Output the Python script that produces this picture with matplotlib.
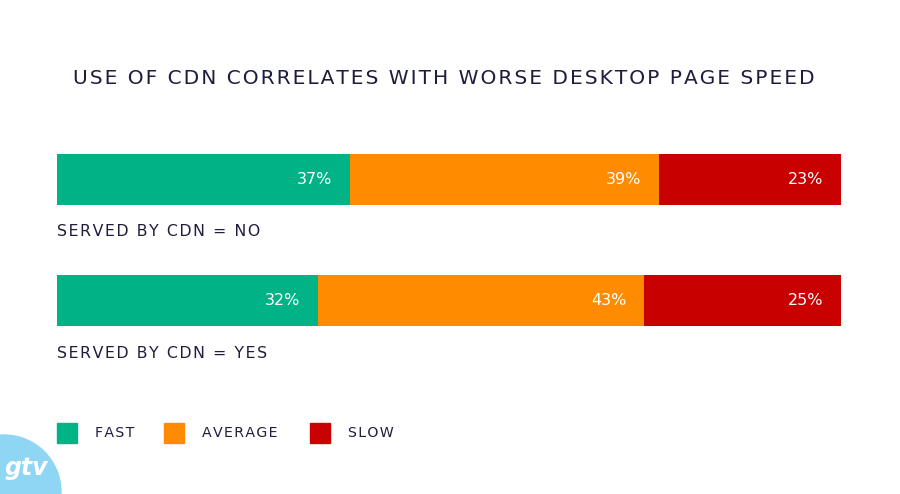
import numpy as np
import matplotlib.pyplot as plt
from matplotlib.patches import Rectangle, Circle

# data
groups = ['SERVED BY CDN = NO', 'SERVED BY CDN = YES']
speeds = ['FAST', 'AVERAGE', 'SLOW']
labels = [[37, 39, 23], [32, 43, 25]]
# segment widths as measured from the bars (share of each row)
shares = [[37.4, 39.4, 23.2], [33.3, 41.6, 25.1]]
colors = ['#00B386', '#FF8C00', '#C80000']
dark = '#1F1D3D'

plt.rcParams['font.family'] = ['DejaVu Sans']

W, H = 900, 494
fig = plt.figure(figsize=(W / 100, H / 100), dpi=100)
fig.patch.set_facecolor('white')

def fx(px):
    return px / W

def fy(py):
    return 1 - py / H

def spaced(s):
    # poor man's letter spacing: hair space between letters
    return '\u200a'.join(s)

# bars area: x 57..841, y 154..326 px
ax = fig.add_axes([fx(57), fy(326), fx(841) - fx(57), fy(154) - fy(326)])
bar_h = 51 / 121
ax.set_xlim(0, 1)
ax.set_ylim(1 + bar_h / 2, -bar_h / 2)
ax.axis('off')

for i, g in enumerate(groups):
    s = np.array(shares[i], dtype=float)
    s = s / s.sum()
    left = np.concatenate([[0], np.cumsum(s)[:-1]])
    for j in range(len(speeds)):
        ax.barh(i, s[j], left=left[j], height=bar_h, color=colors[j], linewidth=0)
        ax.text(left[j] + s[j] - 0.023, i, f'{labels[i][j]}%', color='white',
                ha='right', va='center', fontsize=11.5)
    ax.text(0, i + 52.5 / 121, spaced(g), color=dark, ha='left', va='center',
            fontsize=11.3, clip_on=False)

fig.text(fx(444), fy(78), spaced('USE OF CDN CORRELATES WITH WORSE DESKTOP PAGE SPEED'),
         ha='center', va='center', fontsize=14.5, color=dark)

# legend
leg_x = [57, 164, 310]
for j, name in enumerate(speeds):
    fig.patches.append(Rectangle((fx(leg_x[j]), fy(443)), fx(20), 20 / H,
                                 transform=fig.transFigure, color=colors[j]))
    fig.text(fx(leg_x[j] + 38), fy(433), spaced(name), ha='left', va='center',
             fontsize=10.2, color=dark)

# logo badge bottom left (pixel units -> inches so it stays round)
fig.patches.append(Circle((4 / 100, (H - 492) / 100), 0.57,
                          transform=fig.dpi_scale_trans, color='#8FD6F5'))
fig.text(fx(5), fy(468), 'gtv', ha='left', va='center', fontsize=17,
         color='white', fontweight='bold', style='italic')

fig.savefig('out.png', dpi=100, facecolor='white')
